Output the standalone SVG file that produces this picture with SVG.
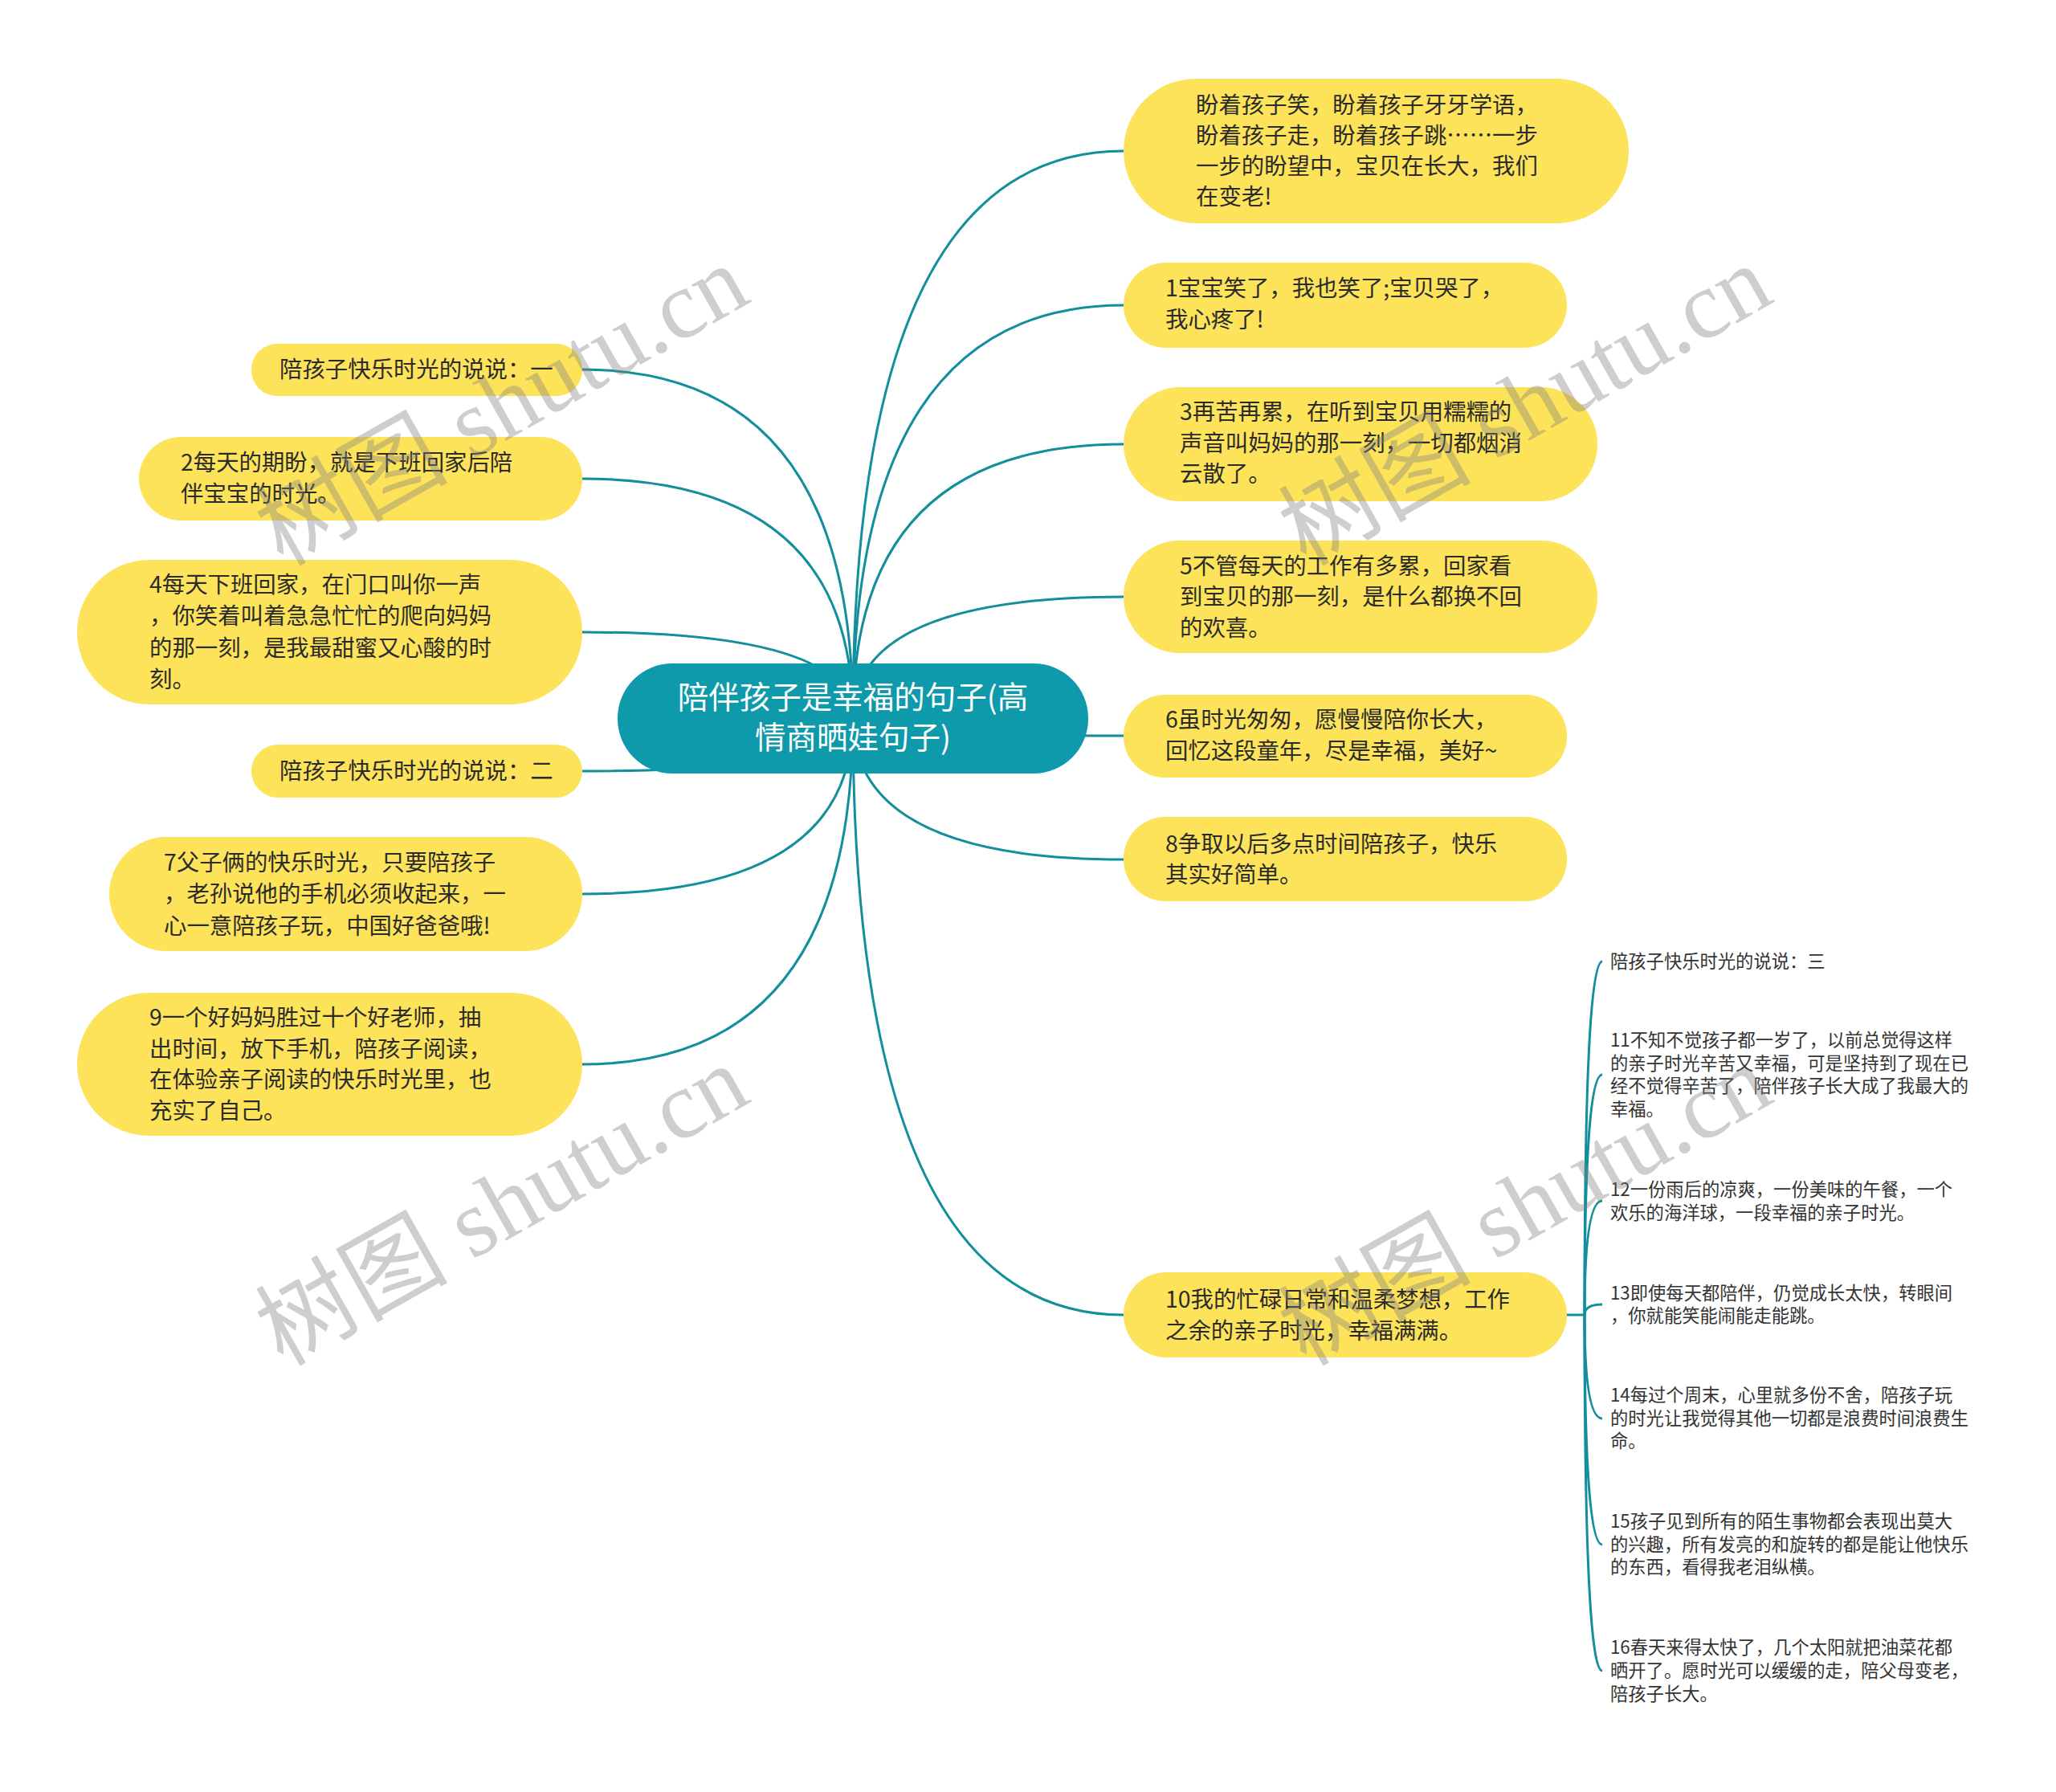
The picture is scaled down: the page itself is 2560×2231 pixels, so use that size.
<svg xmlns="http://www.w3.org/2000/svg" width="2560" height="2231" viewBox="0 0 2560 2231">
<style>
.bg{fill:#ffffff}
.n rect{fill:#FDE35A}
.n text{font-family:"Noto Sans CJK SC","Noto Sans",sans-serif;font-size:28.4px;fill:#2b2b2b}
.root rect{fill:#0E9AAB}
.root text{font-family:"Noto Sans CJK SC","Noto Sans",sans-serif;font-size:38.5px;fill:#ffffff;text-anchor:middle}
.sub text{font-family:"Noto Sans CJK SC","Noto Sans",sans-serif;font-size:22.3px;fill:#333333}
.c path{fill:none;stroke:#128E9C;stroke-width:3}
.wm{font-family:"Liberation Serif","Noto Sans CJK SC",serif;font-size:120px;fill:#808080;opacity:0.38}
</style>
<rect class="bg" x="0" y="0" width="2560" height="2231"/>

<g id="connectors" class="c">
<path d="M1062,894 Q1062,188 1399,188"/>
<path d="M1062,894 Q1062,380 1399,380"/>
<path d="M1062,894 Q1062,553 1399,553"/>
<path d="M1062,894 Q1062,743 1399,743"/>
<path d="M1062,894 Q1062,916 1399,916"/>
<path d="M1062,894 Q1062,1070 1399,1070"/>
<path d="M1062,894 Q1062,1637 1399,1637"/>
<path d="M1062,894 Q1062,460 725,460"/>
<path d="M1062,894 Q1062,596 725,596"/>
<path d="M1062,894 Q1062,787 725,787"/>
<path d="M1062,894 Q1062,960 725,960"/>
<path d="M1062,894 Q1062,1113 725,1113"/>
<path d="M1062,894 Q1062,1325 725,1325"/>
<path d="M1951,1637 L1973,1637"/>
<path d="M1973,1637 Q1973,1197 1995,1197"/>
<path d="M1973,1637 Q1973,1338 1995,1338"/>
<path d="M1973,1637 Q1973,1495 1995,1495"/>
<path d="M1973,1637 Q1973,1624 1995,1624"/>
<path d="M1973,1637 Q1973,1766 1995,1766"/>
<path d="M1973,1637 Q1973,1923 1995,1923"/>
<path d="M1973,1637 Q1973,2080 1995,2080"/>
</g>

<g id="root" class="root">
<rect x="769" y="826" width="586" height="137" rx="68" ry="68"/>
<text x="1062" y="882">陪伴孩子是幸福的句子(高</text>
<text x="1062" y="932">情商晒娃句子)</text>
</g>

<g id="r1" class="n">
<rect x="1399" y="98" width="629" height="180" rx="90" ry="90"/>
<text x="1489" y="141">盼着孩子笑，盼着孩子牙牙学语，</text>
<text x="1489" y="179">盼着孩子走，盼着孩子跳……一步</text>
<text x="1489" y="217">一步的盼望中，宝贝在长大，我们</text>
<text x="1489" y="255">在变老!</text>
</g>
<g id="r2" class="n">
<rect x="1399" y="327" width="552" height="106" rx="53" ry="53"/>
<text x="1451" y="369">1宝宝笑了，我也笑了;宝贝哭了，</text>
<text x="1451" y="408">我心疼了!</text>
</g>
<g id="r3" class="n">
<rect x="1399" y="482" width="590" height="142" rx="71" ry="71"/>
<text x="1469" y="523">3再苦再累，在听到宝贝用糯糯的</text>
<text x="1469" y="562">声音叫妈妈的那一刻，一切都烟消</text>
<text x="1469" y="600">云散了。</text>
</g>
<g id="r4" class="n">
<rect x="1399" y="673" width="590" height="140" rx="70" ry="70"/>
<text x="1469" y="715">5不管每天的工作有多累，回家看</text>
<text x="1469" y="753">到宝贝的那一刻，是什么都换不回</text>
<text x="1469" y="792">的欢喜。</text>
</g>
<g id="r5" class="n">
<rect x="1399" y="865" width="552" height="103" rx="51" ry="51"/>
<text x="1451" y="906">6虽时光匆匆，愿慢慢陪你长大，</text>
<text x="1451" y="945">回忆这段童年，尽是幸福，美好~</text>
</g>
<g id="r6" class="n">
<rect x="1399" y="1017" width="552" height="105" rx="52" ry="52"/>
<text x="1451" y="1061">8争取以后多点时间陪孩子，快乐</text>
<text x="1451" y="1099">其实好简单。</text>
</g>
<g id="r7" class="n">
<rect x="1399" y="1584" width="552" height="106" rx="53" ry="53"/>
<text x="1451" y="1628">10我的忙碌日常和温柔梦想，工作</text>
<text x="1451" y="1667">之余的亲子时光，幸福满满。</text>
</g>

<g id="l1" class="n">
<rect x="313" y="428" width="412" height="65" rx="32" ry="32"/>
<text x="348" y="470">陪孩子快乐时光的说说：一</text>
</g>
<g id="l2" class="n">
<rect x="173" y="544" width="552" height="104" rx="52" ry="52"/>
<text x="225" y="586">2每天的期盼，就是下班回家后陪</text>
<text x="225" y="625">伴宝宝的时光。</text>
</g>
<g id="l3" class="n">
<rect x="96" y="697" width="629" height="180" rx="90" ry="90"/>
<text x="186" y="738">4每天下班回家，在门口叫你一声</text>
<text x="186" y="777">，你笑着叫着急急忙忙的爬向妈妈</text>
<text x="186" y="817">的那一刻，是我最甜蜜又心酸的时</text>
<text x="186" y="856">刻。</text>
</g>
<g id="l4" class="n">
<rect x="313" y="927" width="412" height="66" rx="33" ry="33"/>
<text x="348" y="970">陪孩子快乐时光的说说：二</text>
</g>
<g id="l5" class="n">
<rect x="136" y="1042" width="589" height="142" rx="71" ry="71"/>
<text x="204" y="1084">7父子俩的快乐时光，只要陪孩子</text>
<text x="204" y="1123">，老孙说他的手机必须收起来，一</text>
<text x="204" y="1163">心一意陪孩子玩，中国好爸爸哦!</text>
</g>
<g id="l6" class="n">
<rect x="96" y="1236" width="629" height="178" rx="89" ry="89"/>
<text x="186" y="1277">9一个好妈妈胜过十个好老师，抽</text>
<text x="186" y="1316">出时间，放下手机，陪孩子阅读，</text>
<text x="186" y="1354">在体验亲子阅读的快乐时光里，也</text>
<text x="186" y="1393">充实了自己。</text>
</g>

<g id="s0" class="sub"><text x="2005" y="1205">陪孩子快乐时光的说说：三</text></g>
<g id="s11" class="sub">
<text x="2005" y="1303">11不知不觉孩子都一岁了，以前总觉得这样</text>
<text x="2005" y="1332">的亲子时光辛苦又幸福，可是坚持到了现在已</text>
<text x="2005" y="1360">经不觉得辛苦了，陪伴孩子长大成了我最大的</text>
<text x="2005" y="1389">幸福。</text>
</g>
<g id="s12" class="sub">
<text x="2005" y="1489">12一份雨后的凉爽，一份美味的午餐，一个</text>
<text x="2005" y="1518">欢乐的海洋球，一段幸福的亲子时光。</text>
</g>
<g id="s13" class="sub">
<text x="2005" y="1618">13即使每天都陪伴，仍觉成长太快，转眼间</text>
<text x="2005" y="1646">，你就能笑能闹能走能跳。</text>
</g>
<g id="s14" class="sub">
<text x="2005" y="1745">14每过个周末，心里就多份不舍，陪孩子玩</text>
<text x="2005" y="1774">的时光让我觉得其他一切都是浪费时间浪费生</text>
<text x="2005" y="1802">命。</text>
</g>
<g id="s15" class="sub">
<text x="2005" y="1902">15孩子见到所有的陌生事物都会表现出莫大</text>
<text x="2005" y="1931">的兴趣，所有发亮的和旋转的都是能让他快乐</text>
<text x="2005" y="1959">的东西，看得我老泪纵横。</text>
</g>
<g id="s16" class="sub">
<text x="2005" y="2059">16春天来得太快了，几个太阳就把油菜花都</text>
<text x="2005" y="2088">晒开了。愿时光可以缓缓的走，陪父母变老，</text>
<text x="2005" y="2117">陪孩子长大。</text>
</g>

<g id="watermarks">
<text class="wm" transform="translate(352,706) rotate(-29.5)">树图 shutu.cn</text>
<text class="wm" transform="translate(1626,706) rotate(-29.5)">树图 shutu.cn</text>
<text class="wm" transform="translate(352,1702) rotate(-29.5)">树图 shutu.cn</text>
<text class="wm" transform="translate(1626,1702) rotate(-29.5)">树图 shutu.cn</text>
</g>
</svg>
